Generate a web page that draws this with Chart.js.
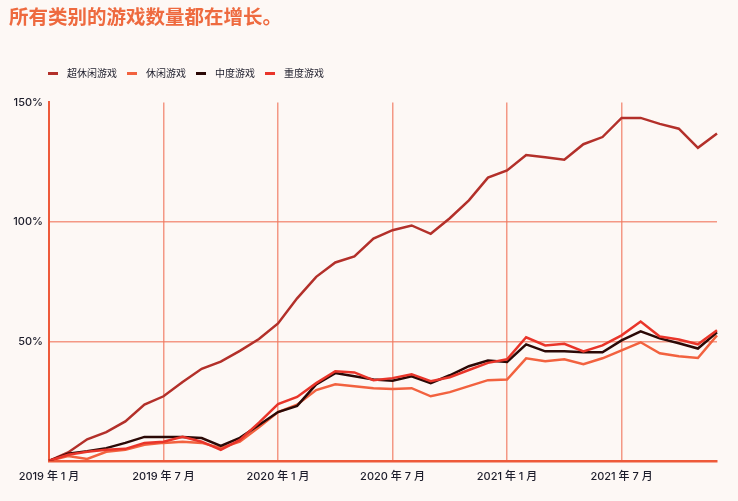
<!DOCTYPE html>
<html>
<head>
<meta charset="utf-8">
<script src="https://cdn.jsdelivr.net/npm/chart.js@4.4.1/dist/chart.umd.min.js"></script>
<style>
  html, body { margin: 0; padding: 0; background: #fdf8f5; }
  #wrap { width: 738px; height: 501px; }
</style>
</head>
<body>
<div id="wrap"><canvas id="c" width="738" height="501"></canvas></div>
<script>
const titleText = '所有类别的游戏数量都在增长。';
const seriesNames = ['超休闲游戏', '休闲游戏', '中度游戏', '重度游戏'];
const seriesColors = ['#b3302a', '#f2623f', '#2b0906', '#e9352a'];

const months = [];
for (let y = 2019; y <= 2021; y++) {
  for (let m = 1; m <= 12; m++) months.push(y + ' 年 ' + m + ' 月');
}

const hyperCasual = [0, 3.5, 9, 12, 16.5, 23.5, 27, 33, 38.5, 41.5, 46, 51, 57.5, 68, 77, 83, 85.5, 93,
  96.5, 98.5, 95, 101.5, 109, 118.5, 121.5, 128, 127, 126, 132.5, 135.5, 143.5, 143.5, 141, 139, 131, 137];
const casual = [0, 2, 0.8, 3.75, 4.6, 6.7, 7.5, 8, 7.5, 5.4, 8, 14, 20.4, 23.5, 29.6, 32, 31.25, 30.4,
  30, 30.4, 27, 28.75, 31.25, 33.75, 34, 42.9, 41.7, 42.5, 40.4, 42.9, 46.25, 49.6, 45, 43.75, 43, 52.5];
const midcore = [0, 3, 4, 5.3, 7.5, 10, 10, 10, 9.5, 6.25, 9.6, 15, 20.4, 23, 32, 36.7, 35.4, 34,
  33.5, 35.4, 32.5, 35.8, 39.6, 42, 41.4, 48.75, 45.8, 45.8, 45.4, 45.4, 50.4, 54.2, 51.25, 49.2, 47, 53.75];
const hardcore = [0, 2.5, 3.75, 4.6, 5, 7.5, 8, 10, 8, 4.6, 8.75, 16, 23.75, 26.7, 32.5, 37.5, 37, 33.75,
  34.6, 36.25, 33.3, 35, 38, 41, 42.5, 51.7, 48.3, 49, 45.8, 48.3, 52.5, 58.3, 52, 50.8, 48.75, 54.6];
const seriesValues = [hyperCasual, casual, midcore, hardcore];

const yTicks = [0, 50, 100, 150];

const textColor = '#1d1d2b';
const gridColor = 'rgba(240,120,95,0.75)';
const axisColor = '#ee5a3a';

// legend markers: short bar with gap
const markers = seriesColors.map(col => {
  const cv = document.createElement('canvas');
  cv.width = 14; cv.height = 3;
  const cx = cv.getContext('2d');
  cx.fillStyle = col;
  cx.fillRect(0, 0, 10, 3);
  return cv;
});

const legendShift = {
  id: 'legendShift',
  afterLayout(chart) {
    const l = chart.legend;
    if (!l) return;
    l.left += 29; l.right += 29;
    l.top -= 14; l.bottom -= 14;
  }
};

new Chart(document.getElementById('c'), {
  type: 'line',
  data: {
    labels: months,
    datasets: seriesNames.map((n, i) => ({
      label: n,
      data: seriesValues[i],
      borderColor: seriesColors[i],
      backgroundColor: seriesColors[i],
      borderWidth: 2.5,
      pointRadius: 0,
      tension: 0,
      order: i === 3 ? 0 : (i === 2 ? 1 : (i === 1 ? 3 : 2))
    }))
  },
  plugins: [legendShift],
  options: {
    responsive: false,
    animation: false,
    layout: { padding: { left: 9, right: 21, top: 0, bottom: 9 } },
    plugins: {
      title: {
        display: true,
        text: titleText,
        align: 'start',
        color: '#ee6a3f',
        font: { family: '"Noto Sans CJK SC", sans-serif', size: 19.5, weight: 'bold' },
        padding: { top: 5, bottom: 44 }
      },
      legend: {
        display: true,
        align: 'start',
        labels: {
          color: textColor,
          font: { family: '"Noto Sans CJK SC", sans-serif', size: 10 },
          usePointStyle: true,
          pointStyleWidth: 14,
          padding: 10,
          sort: (a, b) => a.datasetIndex - b.datasetIndex,
          generateLabels: (chart) => Chart.defaults.plugins.legend.labels.generateLabels(chart)
            .map((l) => Object.assign(l, { pointStyle: markers[l.datasetIndex] }))
        }
      },
      tooltip: { enabled: false }
    },
    scales: {
      x: {
        type: 'category',
        offset: false,
        grid: {
          drawTicks: false,
          lineWidth: 1.5,
          color: (ctx) => (ctx.index % 6 === 0 && ctx.index > 0) ? gridColor : 'rgba(0,0,0,0)'
        },
        border: { display: true, color: axisColor, width: 2.5 },
        ticks: {
          autoSkip: false,
          maxRotation: 0,
          minRotation: 0,
          padding: 9,
          color: textColor,
          font: { family: 'Inter, "Noto Sans CJK SC", sans-serif', size: 11, weight: 500 },
          callback: function (v, i) { return i % 6 === 0 ? months[i] : ''; }
        }
      },
      y: {
        min: yTicks[0],
        max: yTicks[yTicks.length - 1],
        afterFit: (s) => { s.width = 40; },
        afterBuildTicks: (s) => { s.ticks = yTicks.map(v => ({ value: v })); },
        grid: {
          drawTicks: false,
          lineWidth: 1.5,
          color: (ctx) => (ctx.tick && (ctx.tick.value === 50 || ctx.tick.value === 100)) ? gridColor : 'rgba(0,0,0,0)'
        },
        border: { display: true, color: axisColor, width: 2 },
        ticks: {
          padding: 6,
          color: textColor,
          font: { family: 'Inter, "Noto Sans CJK SC", sans-serif', size: 11, weight: 500 },
          callback: (v) => v === 0 ? '' : v + '%'
        }
      }
    }
  }
});
</script>
</body>
</html>
